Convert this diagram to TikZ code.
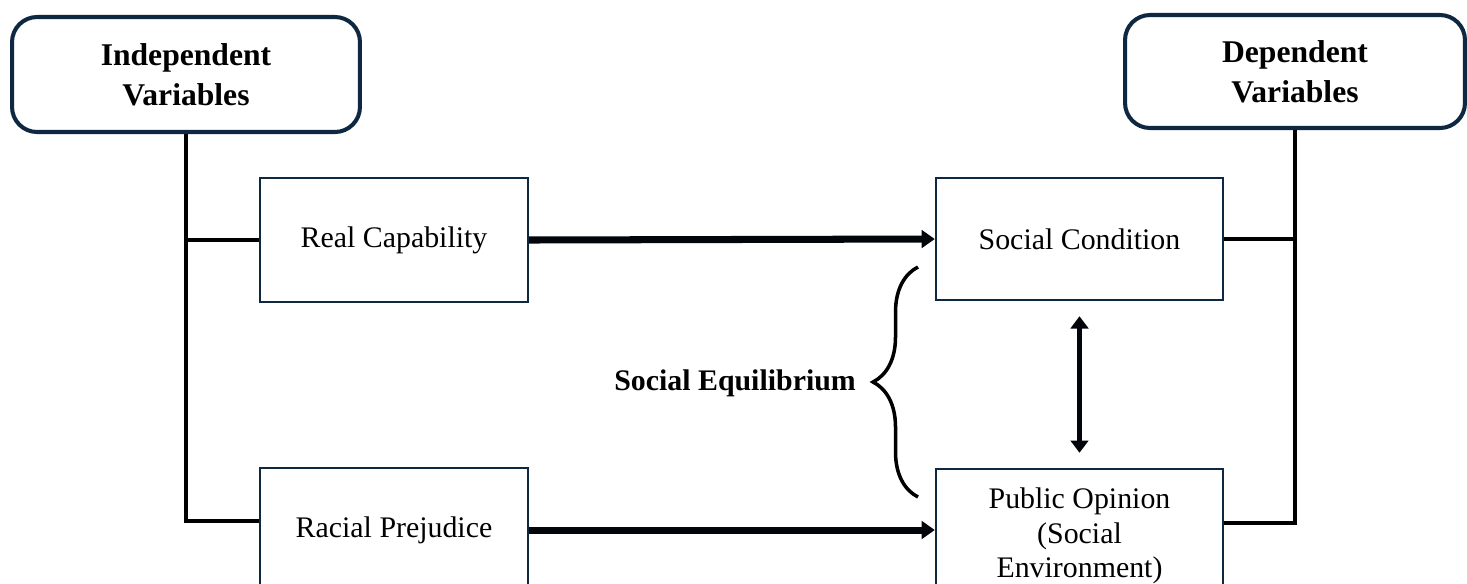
\documentclass[tikz,border=0pt]{standalone}
\usepackage{fontspec}
\setmainfont{Liberation Serif}
\usepackage{tikz}
\usetikzlibrary{arrows.meta,decorations.pathreplacing,calc}
\definecolor{navy}{HTML}{0E2841}
\tikzstyle{varbox} = [rectangle, draw=navy, line width=2.3pt, rounded corners=0.5cm, align=center, text centered, font=\fontsize{18}{22.7}\selectfont\bfseries]
\tikzstyle{factor} = [rectangle, draw=navy, line width=1.4pt, align=center, text centered, minimum width=5.36cm, minimum height=2.48cm, font=\fontsize{17}{19.5}\selectfont]
\tikzstyle{link} = [line width=1.8pt, black]
\tikzstyle{connector} = [line width=4pt, black!85!navy, -{Triangle[length=7.5pt,width=10pt]}]

\begin{document}
\begin{tikzpicture}[x=0.02cm, y=-0.02cm]
        \clip (0,0) rectangle (1467,583);
        \node (indep) [varbox, minimum width=6.96cm, minimum height=2.3cm] at (186,74.5) {Independent\\Variables};
        \node (dep) [varbox, minimum width=6.8cm, minimum height=2.26cm] at (1295,71.5) {Dependent\\Variables};
        \node (realcap) [factor] at (394,240) {Real Capability};
        \node (racial) [factor] at (394,530) {Racial Prejudice};
        \node (socialcond) [factor, minimum width=5.74cm, minimum height=2.44cm] at (1079.5,239) {Social Condition};
        \node (pubop) [factor, minimum width=5.74cm, minimum height=2.68cm] at (1079.5,536) {Public Opinion\\(Social\\Environment)};
        \coordinate (brace-top) at (918,267);
        \coordinate (brace-bot) at (918,497);
        \draw [line width=2pt, decorate, decoration={brace, amplitude=0.9cm}] (brace-bot) -- (brace-top);
        \node (equil) [anchor=east, font=\fontsize{17}{20}\selectfont\bfseries] at (862,383) {Social Equilibrium};
        % left trunk
        \draw [link] (indep.south) |- (realcap.west);
        \draw [link] (indep.south) |- ([yshift=0.18cm]racial.west);
        % right trunk
        \draw [link] (dep.south) |- (socialcond.east);
        \draw [link] (dep.south) |- ([yshift=0.26cm]pubop.east);
        \draw [connector] (realcap.east) -- (socialcond.west);
        \draw [connector] (racial.east) -- (racial.east -| pubop.west);
        \draw [line width=2.8pt, black!85!navy, {Triangle[length=7pt,width=10pt]}-{Triangle[length=7pt,width=10pt]}, shorten <=0.3cm, shorten >=0.3cm] (socialcond) -- (pubop);
    \end{tikzpicture}
\end{document}
